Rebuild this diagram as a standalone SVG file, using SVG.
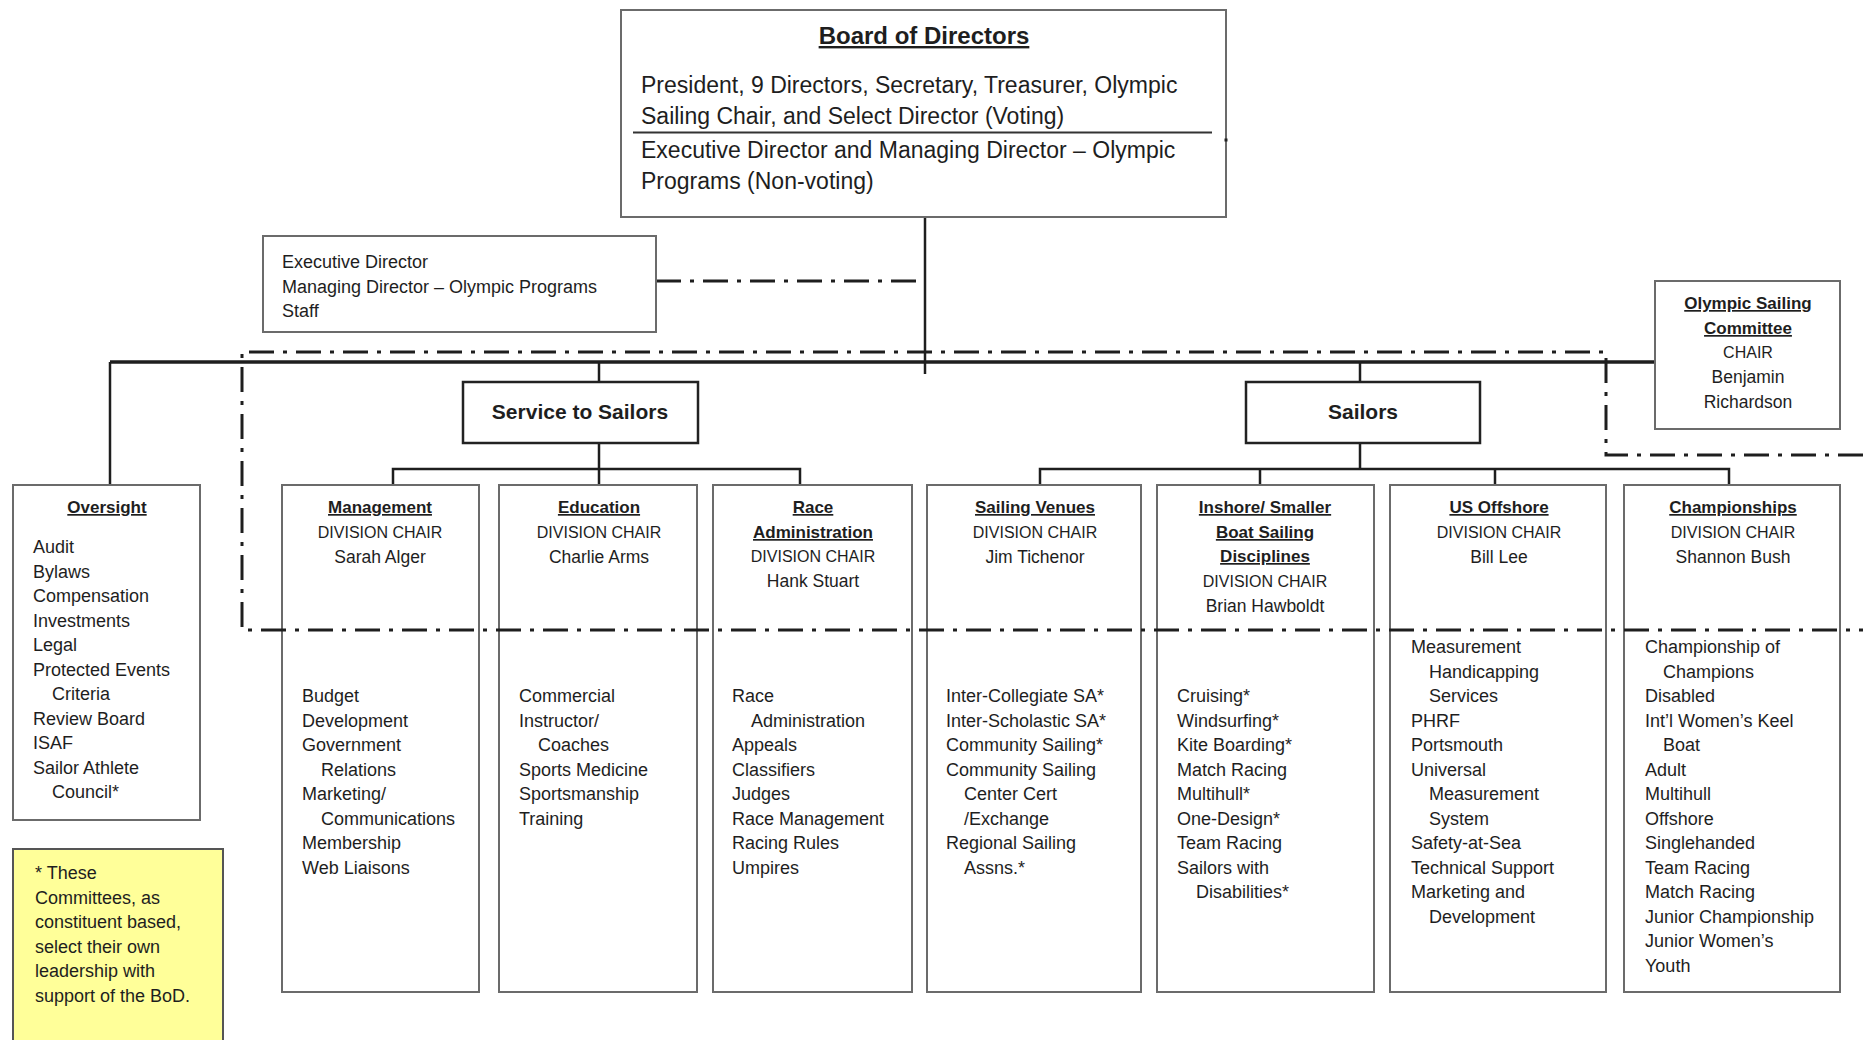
<svg xmlns="http://www.w3.org/2000/svg" width="1863" height="1040" viewBox="0 0 1863 1040">
<style>
.box{fill:#fff;stroke:#6b6b6b;stroke-width:2}
.hb{fill:#fff;stroke:#222;stroke-width:2.5}
.note{fill:#ffff99;stroke:#555;stroke-width:2}
text{font-family:"Liberation Sans",Arial,sans-serif;fill:#1e1e1e}
.t{font-size:18px}
.bt{font-size:23px}
.st{font-size:18px}
.h{font-size:17px;font-weight:bold;text-decoration:underline;text-anchor:middle}
.c{text-anchor:middle}
.dc{font-size:16px;text-anchor:middle}
.nm{font-size:17.5px;text-anchor:middle}
.conn{stroke:#1e1e1e;stroke-width:2.5;fill:none}
.main{stroke:#1e1e1e;stroke-width:3.5;fill:none}
.dd{stroke:#1e1e1e;stroke-width:3;stroke-dasharray:25 9 4 9;fill:none}
</style>

<g id="connectors">
  <line class="conn" x1="925" y1="217" x2="925" y2="374"/>
  <line class="main" x1="110" y1="362" x2="1655" y2="362"/>
  <line class="conn" x1="110" y1="362" x2="110" y2="485"/>
  <line class="conn" x1="599" y1="362" x2="599" y2="382"/>
  <line class="conn" x1="1360" y1="362" x2="1360" y2="382"/>
  <line class="conn" x1="599" y1="443" x2="599" y2="469"/>
  <line class="conn" x1="1360" y1="443" x2="1360" y2="469"/>
  <polyline class="conn" points="393,485 393,469 800,469 800,485"/>
  <line class="conn" x1="599" y1="469" x2="599" y2="485"/>
  <polyline class="conn" points="1040,485 1040,469 1729,469 1729,485"/>
  <line class="conn" x1="1260" y1="469" x2="1260" y2="485"/>
  <line class="conn" x1="1495" y1="469" x2="1495" y2="485"/>
  <line class="dd" x1="656" y1="281" x2="925" y2="281"/>
</g>

<g id="board">
  <rect class="box" x="621" y="10" width="605" height="207"/>
  <rect x="1224.5" y="138.5" width="3" height="3" fill="#222"/>
  <text x="924" y="44" class="c" style="font-size:24px;font-weight:bold;text-decoration:underline">Board of Directors</text>
  <text class="bt" x="641" y="93">President, 9 Directors, Secretary, Treasurer, Olympic</text>
  <text class="bt" x="641" y="124">Sailing Chair, and Select Director (Voting)</text>
  <line x1="633" y1="132.5" x2="1212" y2="132.5" stroke="#333" stroke-width="1.8"/>
  <text class="bt" x="641" y="158">Executive Director and Managing Director – Olympic</text>
  <text class="bt" x="641" y="189">Programs (Non-voting)</text>
</g>

<g id="staff">
  <rect class="box" x="263" y="236" width="393" height="96"/>
  <text class="st" x="282" y="268">Executive Director</text>
  <text class="st" x="282" y="293">Managing Director – Olympic Programs</text>
  <text class="st" x="282" y="317">Staff</text>
</g>

<g id="olympic">
  <rect class="box" x="1655" y="281" width="185" height="148"/>
  <text class="h" x="1748" y="309">Olympic Sailing</text>
  <text class="h" x="1748" y="334">Committee</text>
  <text class="dc" x="1748" y="358">CHAIR</text>
  <text class="nm" x="1748" y="383">Benjamin</text>
  <text class="nm" x="1748" y="408">Richardson</text>
</g>

<g id="service">
  <rect class="hb" x="463" y="382" width="235" height="61"/>
  <text x="580" y="419" class="c" style="font-size:21px;font-weight:bold">Service to Sailors</text>
</g>

<g id="sailors">
  <rect class="hb" x="1246" y="382" width="234" height="61"/>
  <text x="1363" y="419" class="c" style="font-size:21px;font-weight:bold">Sailors</text>
</g>

<g id="oversight">
  <rect class="box" x="13" y="485" width="187" height="335"/>
  <text class="h" x="107" y="513">Oversight</text>
  <text class="t">
    <tspan x="33" y="553">Audit</tspan>
    <tspan x="33" y="577.5">Bylaws</tspan>
    <tspan x="33" y="602">Compensation</tspan>
    <tspan x="33" y="626.5">Investments</tspan>
    <tspan x="33" y="651">Legal</tspan>
    <tspan x="33" y="675.5">Protected Events</tspan>
    <tspan x="52" y="700">Criteria</tspan>
    <tspan x="33" y="724.5">Review Board</tspan>
    <tspan x="33" y="749">ISAF</tspan>
    <tspan x="33" y="773.5">Sailor Athlete</tspan>
    <tspan x="52" y="798">Council*</tspan>
  </text>
</g>

<g id="note">
  <rect class="note" x="13" y="849" width="210" height="200"/>
  <text class="t">
    <tspan x="35" y="879">* These</tspan>
    <tspan x="35" y="903.5">Committees, as</tspan>
    <tspan x="35" y="928">constituent based,</tspan>
    <tspan x="35" y="952.5">select their own</tspan>
    <tspan x="35" y="977">leadership with</tspan>
    <tspan x="35" y="1001.5">support of the BoD.</tspan>
  </text>
</g>

<g id="management">
  <rect class="box" x="282" y="485" width="197" height="507"/>
  <text class="h" x="380" y="513">Management</text>
  <text class="dc" x="380" y="538">DIVISION CHAIR</text>
  <text class="nm" x="380" y="563">Sarah Alger</text>
  <text class="t">
    <tspan x="302" y="702">Budget</tspan>
    <tspan x="302" y="726.5">Development</tspan>
    <tspan x="302" y="751">Government</tspan>
    <tspan x="321" y="775.5">Relations</tspan>
    <tspan x="302" y="800">Marketing/</tspan>
    <tspan x="321" y="824.5">Communications</tspan>
    <tspan x="302" y="849">Membership</tspan>
    <tspan x="302" y="873.5">Web Liaisons</tspan>
  </text>
</g>

<g id="education">
  <rect class="box" x="499" y="485" width="198" height="507"/>
  <text class="h" x="599" y="513">Education</text>
  <text class="dc" x="599" y="538">DIVISION CHAIR</text>
  <text class="nm" x="599" y="563">Charlie Arms</text>
  <text class="t">
    <tspan x="519" y="702">Commercial</tspan>
    <tspan x="519" y="726.5">Instructor/</tspan>
    <tspan x="538" y="751">Coaches</tspan>
    <tspan x="519" y="775.5">Sports Medicine</tspan>
    <tspan x="519" y="800">Sportsmanship</tspan>
    <tspan x="519" y="824.5">Training</tspan>
  </text>
</g>

<g id="race-administration">
  <rect class="box" x="713" y="485" width="199" height="507"/>
  <text class="h" x="813" y="513">Race</text>
  <text class="h" x="813" y="538">Administration</text>
  <text class="dc" x="813" y="562">DIVISION CHAIR</text>
  <text class="nm" x="813" y="587">Hank Stuart</text>
  <text class="t">
    <tspan x="732" y="702">Race</tspan>
    <tspan x="751" y="726.5">Administration</tspan>
    <tspan x="732" y="751">Appeals</tspan>
    <tspan x="732" y="775.5">Classifiers</tspan>
    <tspan x="732" y="800">Judges</tspan>
    <tspan x="732" y="824.5">Race Management</tspan>
    <tspan x="732" y="849">Racing Rules</tspan>
    <tspan x="732" y="873.5">Umpires</tspan>
  </text>
</g>

<g id="sailing-venues">
  <rect class="box" x="927" y="485" width="214" height="507"/>
  <text class="h" x="1035" y="513">Sailing Venues</text>
  <text class="dc" x="1035" y="538">DIVISION CHAIR</text>
  <text class="nm" x="1035" y="563">Jim Tichenor</text>
  <text class="t">
    <tspan x="946" y="702">Inter-Collegiate SA*</tspan>
    <tspan x="946" y="726.5">Inter-Scholastic SA*</tspan>
    <tspan x="946" y="751">Community Sailing*</tspan>
    <tspan x="946" y="775.5">Community Sailing</tspan>
    <tspan x="964" y="800">Center Cert</tspan>
    <tspan x="964" y="824.5">/Exchange</tspan>
    <tspan x="946" y="849">Regional Sailing</tspan>
    <tspan x="964" y="873.5">Assns.*</tspan>
  </text>
</g>

<g id="inshore">
  <rect class="box" x="1157" y="485" width="217" height="507"/>
  <text class="h" x="1265" y="513">Inshore/ Smaller</text>
  <text class="h" x="1265" y="538">Boat Sailing</text>
  <text class="h" x="1265" y="562">Disciplines</text>
  <text class="dc" x="1265" y="587">DIVISION CHAIR</text>
  <text class="nm" x="1265" y="612">Brian Hawboldt</text>
  <text class="t">
    <tspan x="1177" y="702">Cruising*</tspan>
    <tspan x="1177" y="726.5">Windsurfing*</tspan>
    <tspan x="1177" y="751">Kite Boarding*</tspan>
    <tspan x="1177" y="775.5">Match Racing</tspan>
    <tspan x="1177" y="800">Multihull*</tspan>
    <tspan x="1177" y="824.5">One-Design*</tspan>
    <tspan x="1177" y="849">Team Racing</tspan>
    <tspan x="1177" y="873.5">Sailors with</tspan>
    <tspan x="1196" y="898">Disabilities*</tspan>
  </text>
</g>

<g id="us-offshore">
  <rect class="box" x="1390" y="485" width="216" height="507"/>
  <text class="h" x="1499" y="513">US Offshore</text>
  <text class="dc" x="1499" y="538">DIVISION CHAIR</text>
  <text class="nm" x="1499" y="563">Bill Lee</text>
  <text class="t">
    <tspan x="1411" y="653">Measurement</tspan>
    <tspan x="1429" y="677.5">Handicapping</tspan>
    <tspan x="1429" y="702">Services</tspan>
    <tspan x="1411" y="726.5">PHRF</tspan>
    <tspan x="1411" y="751">Portsmouth</tspan>
    <tspan x="1411" y="775.5">Universal</tspan>
    <tspan x="1429" y="800">Measurement</tspan>
    <tspan x="1429" y="824.5">System</tspan>
    <tspan x="1411" y="849">Safety-at-Sea</tspan>
    <tspan x="1411" y="873.5">Technical Support</tspan>
    <tspan x="1411" y="898">Marketing and</tspan>
    <tspan x="1429" y="922.5">Development</tspan>
  </text>
</g>

<g id="championships">
  <rect class="box" x="1624" y="485" width="216" height="507"/>
  <text class="h" x="1733" y="513">Championships</text>
  <text class="dc" x="1733" y="538">DIVISION CHAIR</text>
  <text class="nm" x="1733" y="563">Shannon Bush</text>
  <text class="t">
    <tspan x="1645" y="653">Championship of</tspan>
    <tspan x="1663" y="677.5">Champions</tspan>
    <tspan x="1645" y="702">Disabled</tspan>
    <tspan x="1645" y="726.5">Int’l Women’s Keel</tspan>
    <tspan x="1663" y="751">Boat</tspan>
    <tspan x="1645" y="775.5">Adult</tspan>
    <tspan x="1645" y="800">Multihull</tspan>
    <tspan x="1645" y="824.5">Offshore</tspan>
    <tspan x="1645" y="849">Singlehanded</tspan>
    <tspan x="1645" y="873.5">Team Racing</tspan>
    <tspan x="1645" y="898">Match Racing</tspan>
    <tspan x="1645" y="922.5">Junior Championship</tspan>
    <tspan x="1645" y="947">Junior Women’s</tspan>
    <tspan x="1645" y="971.5">Youth</tspan>
  </text>
</g>

<g id="boundary">
  <polyline class="dd" points="1863,455 1606,455 1606,352 242,352 242,630 1863,630"/>
</g>
</svg>
